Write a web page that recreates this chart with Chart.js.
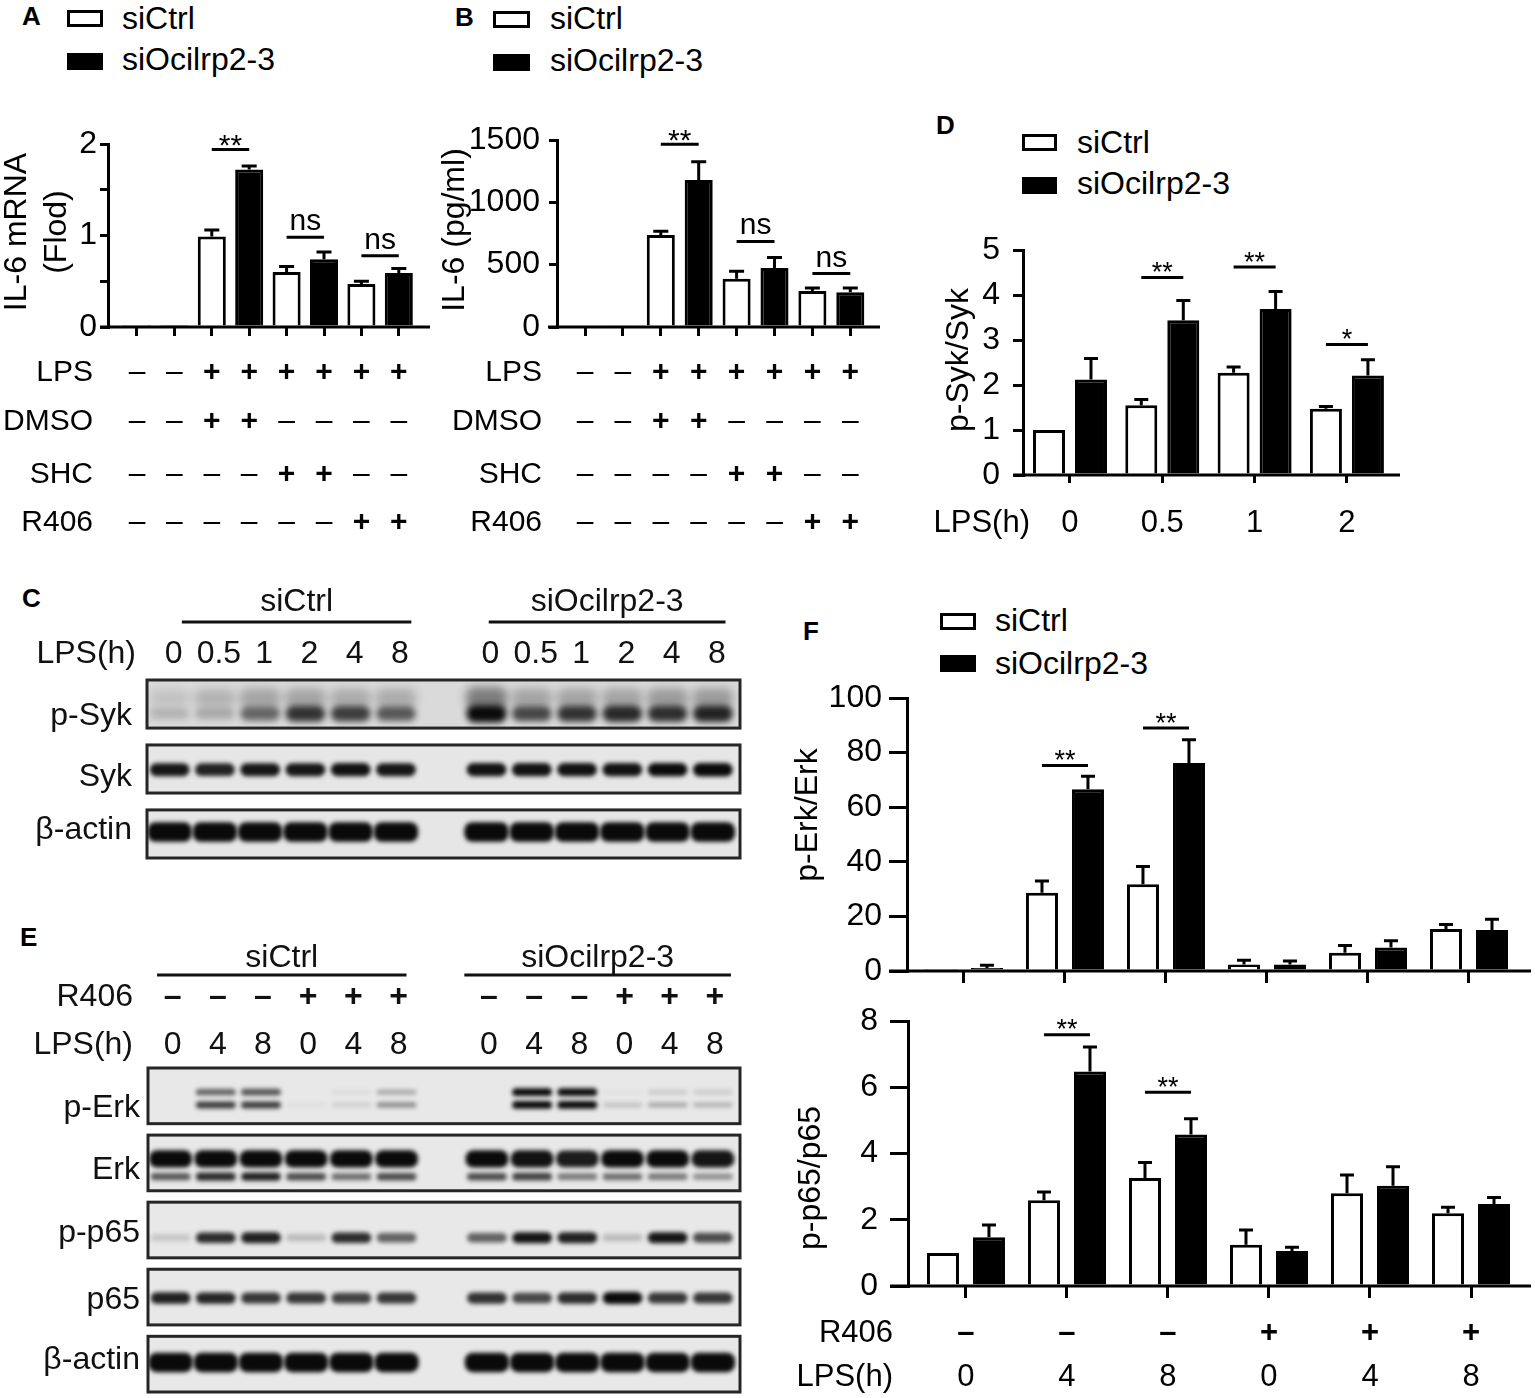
<!DOCTYPE html>
<html lang="en">
<head>
<meta charset="UTF-8">
<title>Ocilrp2 knockdown: IL-6, Syk, Erk and p65</title>
<script src="https://cdn.jsdelivr.net/npm/chart.js@4.4.1/dist/chart.umd.min.js"></script>
<style>
  * { margin: 0; padding: 0; box-sizing: border-box; }
  body {
    width: 1535px; height: 1398px; position: relative; overflow: hidden;
    background: #fff; color: #000;
    font-family: 'Liberation Sans', Arial, sans-serif;
  }
  canvas, .letter, .sw, .lt { position: absolute; }
  .letter { font-weight: bold; font-size: 26px; line-height: 26px; }
  .sw { border: 3px solid #000; background: #fff; }
  .sw.kd { background: #000; }
  .lt { font-size: 32px; line-height: 32px; white-space: nowrap; }
</style>
</head>
<body>
  <!-- panel letters -->
  <div class="letter" style="left:22px;top:3px">A</div>
  <div class="letter" style="left:455px;top:4px">B</div>
  <div class="letter" style="left:22px;top:585px">C</div>
  <div class="letter" style="left:936px;top:112px">D</div>
  <div class="letter" style="left:20px;top:924px">E</div>
  <div class="letter" style="left:803px;top:618px">F</div>

  <!-- legends -->
  <div class="sw" style="left:67px;top:10px;width:36px;height:17px"></div>
  <div class="lt" style="left:122px;top:2px">siCtrl</div>
  <div class="sw kd" style="left:67px;top:53px;width:36px;height:17px"></div>
  <div class="lt" style="left:122px;top:43px">siOcilrp2-3</div>

  <div class="sw" style="left:493px;top:11px;width:37px;height:17px"></div>
  <div class="lt" style="left:550px;top:2px">siCtrl</div>
  <div class="sw kd" style="left:493px;top:54px;width:37px;height:17px"></div>
  <div class="lt" style="left:550px;top:44px">siOcilrp2-3</div>

  <div class="sw" style="left:1022px;top:134px;width:35px;height:17px"></div>
  <div class="lt" style="left:1077px;top:126px">siCtrl</div>
  <div class="sw kd" style="left:1022px;top:177px;width:35px;height:17px"></div>
  <div class="lt" style="left:1077px;top:167px">siOcilrp2-3</div>

  <div class="sw" style="left:940px;top:613px;width:36px;height:17px"></div>
  <div class="lt" style="left:995px;top:604px">siCtrl</div>
  <div class="sw kd" style="left:940px;top:655px;width:36px;height:17px"></div>
  <div class="lt" style="left:995px;top:647px">siOcilrp2-3</div>

  <canvas id="chartA" width="450" height="440" style="left:0;top:100px"></canvas>
  <canvas id="chartB" width="460" height="440" style="left:440px;top:100px"></canvas>
  <canvas id="chartD" width="520" height="450" style="left:900px;top:100px"></canvas>
  <canvas id="chartC" width="760" height="290" style="left:0;top:580px"></canvas>
  <canvas id="chartE" width="760" height="478" style="left:0;top:920px"></canvas>
  <canvas id="chartF1" width="745" height="400" style="left:790px;top:600px"></canvas>
  <canvas id="chartF2" width="745" height="408" style="left:790px;top:990px"></canvas>

<script>
// ---- A: IL-6 mRNA (fold), pairs: none / LPS+DMSO / LPS+SHC / LPS+R406
const aCtrl    = [0.01, 0.99, 0.60, 0.47];
const aCtrlErr = [0, 0.07, 0.06, 0.03];
const aKd      = [0.01, 1.72, 0.74, 0.59];
const aKdErr   = [0, 0.04, 0.08, 0.05];
const aSig = [{ g: 1, y: 1.94, t: '**' }, { g: 2, y: 0.98, t: 'ns' }, { g: 3, y: 0.78, t: 'ns' }];

// ---- B: IL-6 protein (pg/ml)
const bCtrl    = [12, 737, 388, 289];
const bCtrlErr = [0, 32, 59, 24];
const bKd      = [10, 1179, 474, 279];
const bKdErr   = [0, 147, 83, 34];
const bSig = [{ g: 1, y: 1465, t: '**' }, { g: 2, y: 686, t: 'ns' }, { g: 3, y: 429, t: 'ns' }];

// treatment rows shared by A and B (one symbol per bar)
const trLPS  = ['–', '–', '+', '+', '+', '+', '+', '+'];
const trDMSO = ['–', '–', '+', '+', '–', '–', '–', '–'];
const trSHC  = ['–', '–', '–', '–', '+', '+', '–', '–'];
const trR406 = ['–', '–', '–', '–', '–', '–', '+', '+'];

// ---- D: p-Syk/Syk
const dTimes   = ['0', '0.5', '1', '2'];
const dCtrl    = [1.0, 1.55, 2.27, 1.47];
const dCtrlErr = [0, 0.13, 0.13, 0.05];
const dKd      = [2.12, 3.44, 3.69, 2.21];
const dKdErr   = [0.47, 0.44, 0.39, 0.35];
const dSig = [{ g: 1, y: 4.39, t: '**' }, { g: 2, y: 4.62, t: '**' }, { g: 3, y: 2.90, t: '*' }];

// ---- F: p-Erk/Erk and p-p65/p65
const fR406 = ['–', '–', '–', '+', '+', '+'];
const fLps  = ['0', '4', '8', '0', '4', '8'];
const erkCtrl    = [0.4, 28.7, 31.8, 2.4, 6.7, 15.4];
const erkCtrlErr = [0, 4.3, 6.5, 1.5, 2.6, 1.6];
const erkKd      = [1.1, 66.6, 76.2, 2.4, 8.6, 15.0];
const erkKdErr   = [1.0, 4.7, 8.5, 1.3, 2.5, 4.0];
const erkSig = [{ g: 1, y: 75.3, t: '**' }, { g: 2, y: 89.0, t: '**' }];
const p65Ctrl    = [1.0, 2.59, 3.26, 1.25, 2.80, 2.20];
const p65CtrlErr = [0, 0.25, 0.47, 0.44, 0.55, 0.18];
const p65Kd      = [1.47, 6.48, 4.58, 1.06, 3.03, 2.48];
const p65KdErr   = [0.37, 0.74, 0.47, 0.11, 0.57, 0.19];
const p65Sig = [{ g: 1, y: 7.59, t: '**' }, { g: 2, y: 5.85, t: '**' }];

// ---- C blot: band intensity per lane (6 siCtrl lanes, then 6 siOcilrp2-3 lanes)
const cLps       = ['0', '0.5', '1', '2', '4', '8'];
const pSykSmear  = [0.15, 0.25, 0.35, 0.35, 0.3, 0.3, 0.6, 0.35, 0.35, 0.35, 0.4, 0.4];
const pSykBand   = [0.18, 0.22, 0.55, 0.8, 0.75, 0.62, 1.0, 0.7, 0.8, 0.85, 0.82, 0.88];
const sykBand    = [0.9, 0.85, 0.9, 0.9, 0.92, 0.9, 0.92, 0.92, 0.92, 0.92, 0.95, 0.97];
const cActinBand = [1, 1, 1, 1, 1, 1, 1, 1, 1, 1, 1, 1];

// ---- E blot
const eR406      = ['–', '–', '–', '+', '+', '+'];
const eLps       = ['0', '4', '8', '0', '4', '8'];
const pErkUpper  = [0, 0.55, 0.6, 0, 0.05, 0.25, 0, 0.95, 0.9, 0.03, 0.12, 0.12];
const pErkLower  = [0, 0.7, 0.7, 0.04, 0.1, 0.35, 0, 0.95, 0.92, 0.15, 0.25, 0.2];
const erkUpper   = [1, 1, 1, 1, 1, 1, 1, 0.97, 0.92, 1, 1, 0.95];
const erkLower   = [0.65, 0.85, 0.9, 0.7, 0.55, 0.7, 0.7, 0.75, 0.5, 0.55, 0.5, 0.4];
const pP65Band   = [0.15, 0.85, 0.9, 0.2, 0.85, 0.6, 0.6, 0.95, 0.9, 0.2, 0.95, 0.7];
const p65Band    = [0.9, 0.88, 0.8, 0.8, 0.75, 0.8, 0.82, 0.72, 0.85, 1.0, 0.8, 0.8];
const eActinBand = [1, 1, 1, 1, 1, 1, 1, 1, 1, 1, 1, 1];

const FONT = "'Liberation Sans', Arial, sans-serif";
Chart.defaults.font.family = FONT;
Chart.defaults.color = '#000';

const pairPos = (g, s) => 2 * g + s;               // A, B: one x slot per bar
const groupPos = d => (g, s) => g + (s ? d : -d);   // D, F: bars either side of group centre
const laneX = i => (i < 6 ? i : i + 1);            // blots: empty lane between the two groups

// Prism-style axes, error bars, significance bars, treatment rows and y title
function prismPlugin(c) {
  return {
    id: 'prism',
    afterDatasetsDraw(chart) {
      const { ctx, scales: { y } } = chart;
      ctx.save();
      ctx.strokeStyle = '#000';
      ctx.lineWidth = 3;
      [c.ctrlErr, c.kdErr].forEach((errs, i) => {
        const ds = chart.data.datasets[i];
        chart.getDatasetMeta(i).data.forEach((bar, j) => {
          const e = errs[j];
          if (!e) return;
          const top = y.getPixelForValue(ds.data[j].y + e);
          ctx.beginPath();
          ctx.moveTo(bar.x, bar.y);
          ctx.lineTo(bar.x, top);
          ctx.moveTo(bar.x - c.cap / 2, top);
          ctx.lineTo(bar.x + c.cap / 2, top);
          ctx.stroke();
        });
      });
      ctx.restore();
    },
    afterDraw(chart) {
      const { ctx, chartArea: a, scales: { x, y } } = chart;
      ctx.save();
      ctx.strokeStyle = '#000';
      ctx.fillStyle = '#000';
      ctx.lineWidth = 3;

      // baseline runs a bit left of the y axis
      ctx.beginPath();
      ctx.moveTo(a.left - c.ext, a.bottom);
      ctx.lineTo(a.right, a.bottom);
      ctx.stroke();

      ctx.textAlign = 'center';
      ctx.textBaseline = 'alphabetic';
      ctx.font = `${c.sigSize}px ${FONT}`;
      c.sig.forEach(s => {
        const x1 = x.getPixelForValue(c.pos(s.g, 0));
        const x2 = x.getPixelForValue(c.pos(s.g, 1));
        const py = y.getPixelForValue(s.y);
        ctx.beginPath();
        ctx.moveTo(x1, py);
        ctx.lineTo(x2, py);
        ctx.stroke();
        const star = s.t.includes('*');
        ctx.fillText(s.t, (x1 + x2) / 2, star ? py - 12 + 0.58 * c.sigSize : py - 7);
      });

      ctx.textBaseline = 'middle';
      (c.rows || []).forEach(r => {
        ctx.textAlign = 'right';
        ctx.font = `${c.rowSize}px ${FONT}`;
        ctx.fillText(r.label, c.rowLabelX, r.y);
        ctx.textAlign = 'center';
        r.vals.forEach((v, k) => {
          const bold = r.bold === 'all' || (r.bold === 'plus' && v === '+');
          ctx.font = `${bold ? 'bold ' : ''}${c.rowSize}px ${FONT}`;
          ctx.fillText(v, x.getPixelForValue(k), r.y);
        });
      });

      ctx.font = `${c.title.size}px ${FONT}`;
      c.title.lines.forEach(l => {
        ctx.save();
        ctx.translate(l.x, c.title.y);
        ctx.rotate(-Math.PI / 2);
        ctx.fillText(l.text, 0, 0);
        ctx.restore();
      });
      ctx.restore();
    }
  };
}

function barChart(id, c) {
  const cv = document.getElementById(id);
  const a = c.area;
  const XH = 14;
  const bars = (vals, s, fill) => ({
    data: vals.map((v, g) => ({ x: c.pos(g, s), y: v })),
    backgroundColor: fill,
    borderColor: '#000',
    borderWidth: 3,
    grouped: false,
    categoryPercentage: 1,
    barPercentage: c.barPct
  });
  return new Chart(cv, {
    type: 'bar',
    data: { datasets: [bars(c.ctrl, 0, '#fff'), bars(c.kd, 1, '#000')] },
    options: {
      responsive: false,
      animation: false,
      events: [],
      layout: { padding: { left: 0, top: a.t, right: cv.width - a.r, bottom: cv.height - a.b - XH } },
      plugins: { legend: { display: false }, tooltip: { enabled: false } },
      scales: {
        x: {
          type: 'linear', min: c.xMin, max: c.xMax, offset: false,
          afterBuildTicks: s => { s.ticks = c.xTicks.map(v => ({ value: v })); },
          afterFit: s => { s.height = XH; },
          ticks: { display: false },
          grid: { offset: false, drawOnChartArea: false, drawTicks: true, tickLength: c.xTickLen, lineWidth: 3, color: '#000' },
          border: { display: false }
        },
        y: {
          min: 0, max: c.yMax,
          afterFit: s => { s.width = a.l; },
          ticks: {
            stepSize: c.yStep, padding: c.yPad, color: '#000',
            font: { family: FONT, size: c.tickSize },
            callback: v => (Number.isInteger(v / c.labelEvery) ? String(v) : '')
          },
          grid: { drawOnChartArea: false, drawTicks: true, tickLength: c.yTickLen, lineWidth: 3, color: '#000' },
          border: { display: true, width: 3, color: '#000' }
        }
      }
    },
    plugins: [prismPlugin(c)]
  });
}

const abRows = y0 => [
  { label: 'LPS', y: y0, vals: trLPS, bold: 'plus' },
  { label: 'DMSO', y: y0 + 49, vals: trDMSO, bold: 'plus' },
  { label: 'SHC', y: y0 + 102, vals: trSHC, bold: 'plus' },
  { label: 'R406', y: y0 + 150, vals: trR406, bold: 'plus' }
];

barChart('chartA', {
  area: { l: 108, r: 430, t: 44, b: 227 },
  ctrl: aCtrl, ctrlErr: aCtrlErr, kd: aKd, kdErr: aKdErr, sig: aSig,
  pos: pairPos, xMin: -0.775, xMax: 7.834, xTicks: [0, 1, 2, 3, 4, 5, 6, 7], barPct: 0.75,
  yMax: 2, yStep: 0.5, labelEvery: 1, yPad: 3, yTickLen: 8, xTickLen: 9, tickSize: 32,
  cap: 15, ext: 8, sigSize: 30,
  rows: abRows(273), rowLabelX: 93, rowSize: 30,
  title: { size: 32, y: 132, lines: [{ text: 'IL-6 mRNA', x: 17 }, { text: '(Flod)', x: 57 }] }
});

barChart('chartB', {
  area: { l: 117, r: 440, t: 40, b: 227 },
  ctrl: bCtrl, ctrlErr: bCtrlErr, kd: bKd, kdErr: bKdErr, sig: bSig,
  pos: pairPos, xMin: -0.739, xMax: 7.784, xTicks: [0, 1, 2, 3, 4, 5, 6, 7], barPct: 0.74,
  yMax: 1500, yStep: 500, labelEvery: 500, yPad: 9, yTickLen: 8, xTickLen: 9, tickSize: 32,
  cap: 15, ext: 9, sigSize: 30,
  rows: abRows(273), rowLabelX: 102, rowSize: 30,
  title: { size: 32, y: 130, lines: [{ text: 'IL-6 (pg/ml)', x: 15 }] }
});

barChart('chartD', {
  area: { l: 123, r: 500, t: 150, b: 375 },
  ctrl: dCtrl, ctrlErr: dCtrlErr, kd: dKd, kdErr: dKdErr, sig: dSig,
  pos: groupPos(0.2275), xMin: -0.509, xMax: 3.575, xTicks: [0, 1, 2, 3], barPct: 0.762,
  yMax: 5, yStep: 1, labelEvery: 1, yPad: 13, yTickLen: 10, xTickLen: 8, tickSize: 32,
  cap: 14, ext: 10, sigSize: 27,
  rows: [{ label: 'LPS(h)', y: 423, vals: dTimes }], rowLabelX: 130, rowSize: 31,
  title: { size: 32, y: 260, lines: [{ text: 'p-Syk/Syk', x: 59 }] }
});

barChart('chartF1', {
  area: { l: 117, r: 741, t: 98, b: 371 },
  ctrl: erkCtrl, ctrlErr: erkCtrlErr, kd: erkKd, kdErr: erkKdErr, sig: erkSig,
  pos: groupPos(0.2277), xMin: -0.564, xMax: 5.614, xTicks: [0, 1, 2, 3, 4, 5], barPct: 0.696,
  yMax: 100, yStep: 20, labelEvery: 20, yPad: 7, yTickLen: 18, xTickLen: 12, tickSize: 32,
  cap: 14, ext: 18, sigSize: 27,
  title: { size: 32, y: 215, lines: [{ text: 'p-Erk/Erk', x: 18 }] }
});

barChart('chartF2', {
  area: { l: 118, r: 741, t: 23, b: 296 },
  ctrl: p65Ctrl, ctrlErr: p65CtrlErr, kd: p65Kd, kdErr: p65KdErr, sig: p65Sig,
  pos: groupPos(0.2277), xMin: -0.574, xMax: 5.594, xTicks: [0, 1, 2, 3, 4, 5], barPct: 0.696,
  yMax: 8, yStep: 2, labelEvery: 2, yPad: 12, yTickLen: 18, xTickLen: 12, tickSize: 32,
  cap: 14, ext: 18, sigSize: 27,
  rows: [
    { label: 'R406', y: 343, vals: fR406, bold: 'all' },
    { label: 'LPS(h)', y: 387, vals: fLps }
  ], rowLabelX: 103, rowSize: 31,
  title: { size: 32, y: 188, lines: [{ text: 'p-p65/p65', x: 21 }] }
});

// ---- western blots as floating bars, one strip per row of the y scale
function blotPlugin(c) {
  const strip = (y, r) => [y.getPixelForValue(r), y.getPixelForValue(r + c.stripH)];
  return {
    id: 'blot',
    beforeDatasetsDraw(chart) {
      const { ctx, chartArea: a, scales: { y } } = chart;
      ctx.save();
      c.strips.forEach(s => {
        const [y1, y2] = strip(y, s.row);
        ctx.fillStyle = s.bg;
        ctx.fillRect(a.left, y1, a.right - a.left, y2 - y1);
      });
      ctx.restore();
    },
    // soften each band; the smear gets a wider blur than the sharp bands
    beforeDatasetDraw(chart, args) {
      chart.ctx.save();
      chart.ctx.filter = `blur(${c.bands[args.index].blur || 2.2}px)`;
    },
    afterDatasetDraw(chart) {
      chart.ctx.restore();
    },
    afterDatasetsDraw(chart) {
      const { ctx, chartArea: a, scales: { y } } = chart;
      ctx.save();
      ctx.strokeStyle = '#262626';
      ctx.lineWidth = 3;
      c.strips.forEach(s => {
        const [y1, y2] = strip(y, s.row);
        ctx.strokeRect(a.left, y1, a.right - a.left, y2 - y1);
      });
      ctx.restore();
    },
    afterDraw(chart) {
      const { ctx, scales: { x, y } } = chart;
      ctx.save();
      ctx.fillStyle = '#111';
      ctx.strokeStyle = '#111';
      ctx.lineWidth = 3;
      ctx.textBaseline = 'middle';
      ctx.textAlign = 'center';
      ctx.font = `32px ${FONT}`;
      c.heads.forEach(h => {
        const x1 = x.getPixelForValue(h.from), x2 = x.getPixelForValue(h.to);
        ctx.beginPath();
        ctx.moveTo(x1, c.headLineY);
        ctx.lineTo(x2, c.headLineY);
        ctx.stroke();
        ctx.fillText(h.text, (x1 + x2) / 2, c.headTextY);
      });
      c.laneRows.forEach(r => {
        ctx.textAlign = 'right';
        ctx.font = `32px ${FONT}`;
        ctx.fillText(r.label, c.rowLabelX, r.y);
        ctx.textAlign = 'center';
        ctx.font = `${r.bold ? 'bold ' : ''}32px ${FONT}`;
        r.vals.forEach((v, i) => ctx.fillText(v, x.getPixelForValue(laneX(i)) + c.laneDx, r.y));
      });
      ctx.textAlign = 'right';
      ctx.font = `32px ${FONT}`;
      c.labels.forEach(l => ctx.fillText(l.text, c.stripLabelX, y.getPixelForValue(l.y)));
      ctx.restore();
    }
  };
}

function blotChart(id, c) {
  const cv = document.getElementById(id);
  const a = c.area;
  const datasets = c.bands.map(b => {
    const data = [], colors = [];
    b.vals.forEach((v, i) => {
      if (v <= 0) return;
      const half = b.h * (0.55 + 0.45 * v) / 2;
      data.push({ x: laneX(i), y: [b.row + b.at - half, b.row + b.at + half] });
      colors.push(`rgba(10,10,10,${Math.min(1, v * (b.gain || 1))})`);
    });
    return {
      data, backgroundColor: colors, borderWidth: 0, borderRadius: 8, borderSkipped: false,
      grouped: false, categoryPercentage: 1, barPercentage: b.pct || 0.88
    };
  });
  const lanes = [0, 1, 2, 3, 4, 5, 7, 8, 9, 10, 11, 12];
  return new Chart(cv, {
    type: 'bar',
    data: { datasets },
    options: {
      responsive: false,
      animation: false,
      events: [],
      layout: { padding: { left: a.l, top: a.t, right: cv.width - a.r, bottom: cv.height - a.b } },
      plugins: { legend: { display: false }, tooltip: { enabled: false } },
      scales: {
        x: {
          type: 'linear', display: false, min: -0.5, max: 12.6, offset: false,
          afterBuildTicks: s => { s.ticks = lanes.map(v => ({ value: v })); }
        },
        y: { type: 'linear', display: false, min: 0, max: c.yMax, reverse: true }
      }
    },
    plugins: [blotPlugin(c)]
  });
}

blotChart('chartC', {
  area: { l: 147, r: 740, t: 100, b: 278 },
  yMax: 2.74, stripH: 0.74,
  strips: [{ row: 0, bg: '#dadada' }, { row: 1, bg: '#e6e6e6' }, { row: 2, bg: '#e6e6e6' }],
  bands: [
    { vals: pSykSmear, row: 0, at: 0.28, h: 0.42, gain: 0.75, pct: 0.9, blur: 5 },
    { vals: pSykBand, row: 0, at: 0.52, h: 0.27, blur: 3 },
    { vals: sykBand, row: 1, at: 0.38, h: 0.21, gain: 1.05 },
    { vals: cActinBand, row: 2, at: 0.34, h: 0.3, pct: 0.98 }
  ],
  heads: [{ text: 'siCtrl', from: 0.27, to: 5.34 }, { text: 'siOcilrp2-3', from: 7.05, to: 12.28 }],
  headTextY: 22, headLineY: 42,
  laneRows: [{ label: 'LPS(h)', y: 74, vals: cLps.concat(cLps) }],
  rowLabelX: 136, laneDx: 4,
  labels: [{ text: 'p-Syk', y: 0.55 }, { text: 'Syk', y: 1.49 }, { text: 'β-actin', y: 2.31 }],
  stripLabelX: 132
});

blotChart('chartE', {
  area: { l: 148, r: 740, t: 148, b: 472 },
  yMax: 4.83, stripH: 0.83,
  strips: [0, 1, 2, 3, 4].map(r => ({ row: r, bg: '#e8e8e8' })),
  bands: [
    { vals: pErkUpper, row: 0, at: 0.36, h: 0.12, gain: 1.1 },
    { vals: pErkLower, row: 0, at: 0.55, h: 0.12, gain: 1.1 },
    { vals: erkUpper, row: 1, at: 0.355, h: 0.26, pct: 0.95 },
    { vals: erkLower, row: 1, at: 0.62, h: 0.13 },
    { vals: pP65Band, row: 2, at: 0.53, h: 0.17 },
    { vals: p65Band, row: 3, at: 0.43, h: 0.18 },
    { vals: eActinBand, row: 4, at: 0.39, h: 0.29, pct: 0.98 }
  ],
  heads: [{ text: 'siCtrl', from: -0.3, to: 5.22 }, { text: 'siOcilrp2-3', from: 6.5, to: 12.4 }],
  headTextY: 38, headLineY: 55,
  laneRows: [
    { label: 'R406', y: 77, vals: eR406.concat(eR406), bold: true },
    { label: 'LPS(h)', y: 125, vals: eLps.concat(eLps) }
  ],
  rowLabelX: 133, laneDx: 2,
  labels: [
    { text: 'p-Erk', y: 0.60 }, { text: 'Erk', y: 1.52 }, { text: 'p-p65', y: 2.46 },
    { text: 'p65', y: 3.46 }, { text: 'β-actin', y: 4.35 }
  ],
  stripLabelX: 140
});
</script>
</body>
</html>
